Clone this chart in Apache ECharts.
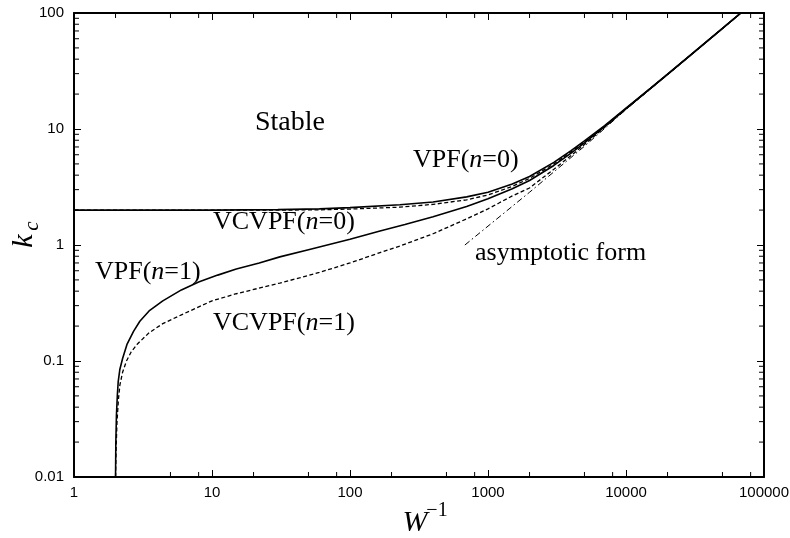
<!DOCTYPE html>
<html>
<head>
<meta charset="utf-8">
<script src="https://cdn.jsdelivr.net/npm/echarts@6/dist/echarts.min.js"></script>
<style>
  html, body { margin: 0; padding: 0; background: #fff; }
  #chart { width: 790px; height: 538px; }
</style>
</head>
<body>
<div id="chart"></div>
<script>
// curves (x = W^-1, y = k_c)
const vpf0X = [1, 10, 30, 60, 100, 230, 400, 700, 1000, 1500, 2000, 3000, 4000, 5000, 7000, 10000, 15000, 20000, 30000, 50000, 70000]
const vpf0Y = [2.0, 2.0, 2.02, 2.05, 2.1, 2.22, 2.35, 2.6, 2.85, 3.35, 3.9, 5.15, 6.5, 7.9, 10.7, 15.1, 22.4, 29.7, 44.4, 73.7, 103]

const vcvpf0X = [1, 10, 30, 60, 100, 230, 400, 700, 1000, 1500, 2000, 3000, 4000, 5000, 7000, 10000, 15000, 20000, 30000, 50000, 70000]
const vcvpf0Y = [2.0, 2.0, 2.0, 2.01, 2.04, 2.12, 2.24, 2.45, 2.7, 3.2, 3.75, 5.0, 6.35, 7.75, 10.6, 15.0, 22.3, 29.6, 44.3, 73.6, 103]

const vpf1X = [2.0, 2.01, 2.03, 2.06, 2.09, 2.15, 2.25, 2.42, 2.7, 3, 3.5, 4.4, 6, 8, 11, 15, 22, 31, 50, 100, 165, 250, 400, 700, 1000, 1500, 2000, 3000, 4000, 5000, 7000, 10000, 15000, 20000, 30000, 50000, 70000]
const vpf1Y = [0.01, 0.02, 0.034, 0.05, 0.066, 0.085, 0.105, 0.139, 0.18, 0.22, 0.27, 0.33, 0.41, 0.48, 0.55, 0.62, 0.7, 0.79, 0.91, 1.12, 1.32, 1.5, 1.75, 2.15, 2.5, 3.05, 3.6, 4.85, 6.2, 7.6, 10.5, 15.0, 22.3, 29.6, 44.3, 73.6, 103]

const vcvpf1X = [2.0, 2.02, 2.05, 2.1, 2.15, 2.25, 2.4, 2.6, 2.86, 3.5, 4.4, 6, 10, 15, 31, 43, 60, 100, 165, 230, 400, 700, 1000, 1200, 1500, 2000, 3000, 4000, 5000, 7000, 10000, 15000, 20000, 30000, 50000, 70000]
const vcvpf1Y = [0.01, 0.018, 0.03, 0.047, 0.062, 0.08, 0.1, 0.12, 0.139, 0.175, 0.21, 0.25, 0.33, 0.38, 0.47, 0.52, 0.58, 0.7, 0.86, 0.98, 1.25, 1.68, 2.05, 2.3, 2.65, 3.1, 4.5, 5.9, 7.35, 10.35, 14.9, 22.2, 29.5, 44.2, 73.5, 103]

const asymX = [680, 2000, 5000, 10000, 70000]
const asymY = [1.0, 2.85, 7.1, 14.7, 103]

// ticks
const xMajor = [1, 10, 100, 1000, 10000, 100000]
const xMinor = [2, 5, 8, 20, 50, 80, 200, 500, 800, 2000, 5000, 8000, 20000, 50000, 80000]
const yMajor = [0.01, 0.1, 1, 10, 100]
const yMinor = [0.02, 0.03, 0.04, 0.05, 0.06, 0.07, 0.08, 0.09,
  0.2, 0.3, 0.4, 0.5, 0.6, 0.7, 0.8, 0.9,
  2, 3, 4, 5, 6, 7, 8, 9,
  20, 30, 40, 50, 60, 70, 80, 90]

const X_MIN = 1, X_MAX = 100000, Y_MIN = 0.01, Y_MAX = 100

const zip = (xs, ys) => xs.map((x, i) => [x, ys[i]])

const serif = 'Liberation Serif'
const sans = 'Liberation Sans'

const chart = echarts.init(document.getElementById('chart'))

const fmt = v => String(+Number(v).toPrecision(6))

const makeAxis = (dim, position, values, withLabel) => {
  const range = dim === 'x' ? { min: X_MIN, max: X_MAX } : { min: Y_MIN, max: Y_MAX }
  return {
    type: 'log',
    logBase: 10,
    ...range,
    position,
    splitLine: { show: false },
    axisLine: { show: true, onZero: false, lineStyle: { color: '#000', width: 2 } },
    axisTick: {
      show: true,
      inside: true,
      length: 7,
      customValues: values,
      lineStyle: { color: '#000', width: 1 }
    },
    axisLabel: {
      show: withLabel,
      customValues: values,
      formatter: fmt,
      color: '#000',
      fontFamily: sans,
      fontSize: 15,
      margin: dim === 'x' ? 8 : 10
    },
    minorTick: { show: false }
  }
}

// minor ticks drawn on all four sides through the axis scales
const minorTickLen = 5
const tickLine = (x1, y1, x2, y2) => ({
  type: 'line',
  shape: { x1, y1, x2, y2 },
  style: { stroke: '#000', lineWidth: 1 }
})
const xMinorSeries = {
  type: 'custom',
  z: 4,
  data: xMinor.map(v => [v, 1]),
  renderItem: (params, api) => {
    const b = api.coord([api.value(0), Y_MIN])
    const t = api.coord([api.value(0), Y_MAX])
    return {
      type: 'group',
      children: [
        tickLine(b[0], b[1], b[0], b[1] - minorTickLen),
        tickLine(t[0], t[1], t[0], t[1] + minorTickLen)
      ]
    }
  }
}
const yMinorSeries = {
  type: 'custom',
  z: 4,
  data: yMinor.map(v => [10, v]),
  renderItem: (params, api) => {
    const l = api.coord([X_MIN, api.value(1)])
    const r = api.coord([X_MAX, api.value(1)])
    return {
      type: 'group',
      children: [
        tickLine(l[0], l[1], l[0] + minorTickLen, l[1]),
        tickLine(r[0], r[1], r[0] - minorTickLen, r[1])
      ]
    }
  }
}

const solid = { color: '#000', width: 1.6, type: 'solid' }
const dashed = { color: '#000', width: 1.3, type: [4, 2.5] }
const dashDot = { color: '#000', width: 1, type: [6, 3, 1.5, 3] }

const lineSeries = (name, data, style) => ({
  name,
  type: 'line',
  data,
  showSymbol: false,
  symbol: 'none',
  smooth: false,
  lineStyle: style,
  z: 3
})

const label = (x, y, parts, size) => ({
  type: 'text',
  x, y,
  style: {
    text: parts,
    fill: '#000',
    font: `${size}px "${serif}"`,
    verticalAlign: 'middle',
    rich: {
      a: { fontFamily: serif, fontSize: size, fill: '#000' },
      i: { fontFamily: serif, fontSize: size, fontStyle: 'italic', fill: '#000' }
    }
  }
})

const option = {
  animation: false,
  backgroundColor: '#fff',
  grid: { left: 74, right: 26, top: 13, bottom: 61, containLabel: false, outerBoundsMode: 'none' },
  xAxis: [
    makeAxis('x', 'bottom', xMajor, true),
    makeAxis('x', 'top', xMajor, false)
  ],
  yAxis: [
    makeAxis('y', 'left', yMajor, true),
    makeAxis('y', 'right', yMajor, false)
  ],
  series: [
    lineSeries('VPF(n=0)', zip(vpf0X, vpf0Y), solid),
    lineSeries('VCVPF(n=0)', zip(vcvpf0X, vcvpf0Y), dashed),
    lineSeries('VPF(n=1)', zip(vpf1X, vpf1Y), solid),
    lineSeries('VCVPF(n=1)', zip(vcvpf1X, vcvpf1Y), dashed),
    lineSeries('asymptotic form', zip(asymX, asymY), dashDot),
    xMinorSeries,
    yMinorSeries
  ],
  graphic: [
    label(255, 123, '{a|Stable}', 28),
    label(413, 160, '{a|VPF(}{i|n}{a|=0)}', 26),
    label(213, 222, '{a|VCVPF(}{i|n}{a|=0)}', 26),
    label(95, 272, '{a|VPF(}{i|n}{a|=1)}', 26),
    label(213, 323, '{a|VCVPF(}{i|n}{a|=1)}', 26),
    label(475, 253, '{a|asymptotic form}', 26),
    // axis titles
    {
      type: 'text', x: 415, y: 523,
      style: { text: 'W', font: `italic 30px "${serif}"`, fill: '#000', align: 'center', verticalAlign: 'middle' }
    },
    {
      type: 'text', x: 437, y: 511,
      style: { text: '\u22121', font: `20px "${serif}"`, fill: '#000', align: 'center', verticalAlign: 'middle' }
    },
    {
      type: 'text', x: 24, y: 241, rotation: Math.PI / 2,
      style: { text: 'k', font: `italic 30px "${serif}"`, fill: '#000', align: 'center', verticalAlign: 'middle' }
    },
    {
      type: 'text', x: 32, y: 226, rotation: Math.PI / 2,
      style: { text: 'c', font: `italic 21px "${serif}"`, fill: '#000', align: 'center', verticalAlign: 'middle' }
    }
  ]
}

chart.setOption(option)
</script>
</body>
</html>
